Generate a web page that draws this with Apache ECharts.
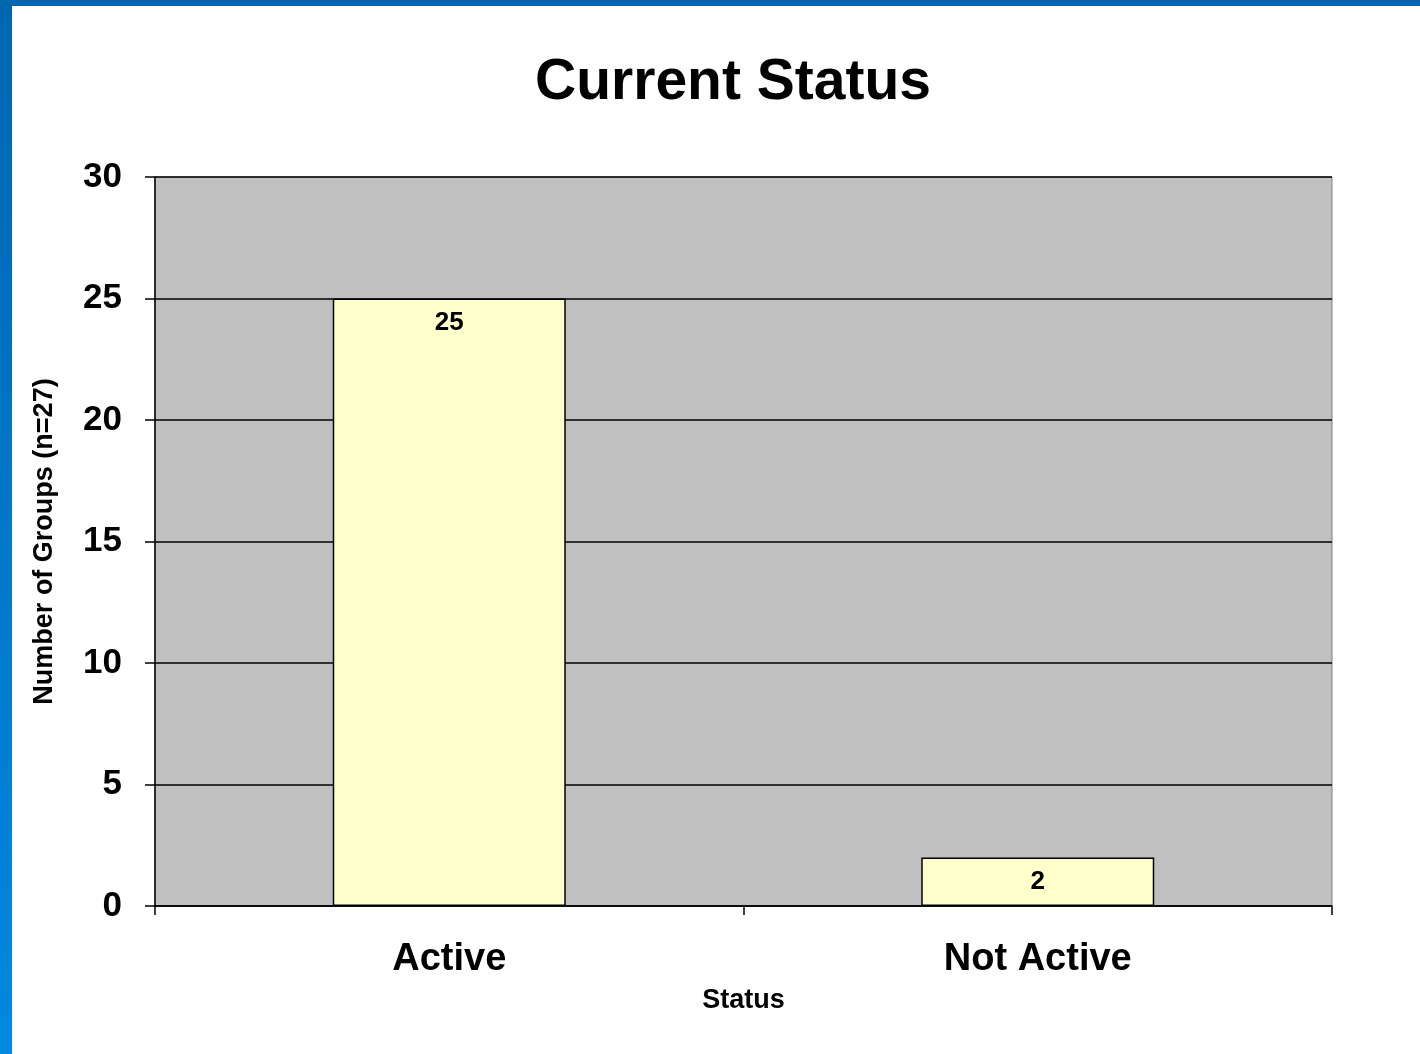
<!DOCTYPE html>
<html>
<head>
<meta charset="utf-8">
<script src="https://cdn.jsdelivr.net/npm/echarts@6/dist/echarts.min.js"></script>
<style>
  html, body { margin: 0; padding: 0; }
  body {
    width: 1420px; height: 1054px; overflow: hidden;
    background: linear-gradient(to bottom, #0066b0, #0088e0);
    position: relative;
  }
  #main {
    position: absolute; left: 12px; top: 6px;
    width: 1408px; height: 1048px; background: #fff;
  }
</style>
</head>
<body>
<div id="main"></div>
<script>
  // 数据
  var categories = ['Active', 'Not Active'];
  var groupCounts = [25, 2];
  var yTicks = [0, 5, 10, 15, 20, 25, 30];

  var font = 'Arial, "Liberation Sans", sans-serif';
  var myChart = echarts.init(document.getElementById('main'));

  var option = {
    animation: false,
    title: {
      text: 'Current Status',
      left: 716,
      top: 44,
      textAlign: 'center',
      textStyle: { fontFamily: font, fontSize: 57, fontWeight: 'bold', color: '#000' }
    },
    grid: {
      left: 143, top: 171, width: 1177, height: 729,
      show: true, backgroundColor: '#c0c0c0', borderColor: '#808080', borderWidth: 1
    },
    xAxis: {
      type: 'category',
      data: categories,
      name: 'Status',
      nameLocation: 'middle',
      nameGap: 81,
      nameTextStyle: { fontFamily: font, fontSize: 27, fontWeight: 'bold', color: '#000' },
      axisLine: { lineStyle: { color: '#000', width: 1.5 } },
      axisTick: { show: true, length: 9, lineStyle: { color: '#000', width: 1.5 } },
      axisLabel: { margin: 35, fontFamily: font, fontSize: 38, fontWeight: 'bold', color: '#000' }
    },
    yAxis: {
      type: 'value',
      min: yTicks[0],
      max: yTicks[yTicks.length - 1],
      interval: 5,
      name: 'Number of Groups (n=27)',
      nameLocation: 'middle',
      nameGap: 97,
      nameTextStyle: { fontFamily: font, fontSize: 27, fontWeight: 'bold', color: '#000' },
      axisLine: { show: true, lineStyle: { color: '#000', width: 1.5 } },
      axisTick: { show: true, length: 10, lineStyle: { color: '#000', width: 1.5 } },
      axisLabel: { margin: 33, fontFamily: font, fontSize: 35, fontWeight: 'bold', color: '#000' },
      splitLine: { show: true, lineStyle: { color: '#000', width: 1.5 } }
    },
    series: [{
      name: 'Groups',
      type: 'bar',
      data: groupCounts,
      barWidth: 233,
      itemStyle: { color: '#ffffcc', borderColor: '#000', borderWidth: 1.5 },
      label: {
        show: true,
        position: 'insideTop',
        distance: 11,
        fontFamily: font, fontSize: 26, fontWeight: 'bold', color: '#000'
      }
    }]
  };

  myChart.setOption(option);
</script>
</body>
</html>
